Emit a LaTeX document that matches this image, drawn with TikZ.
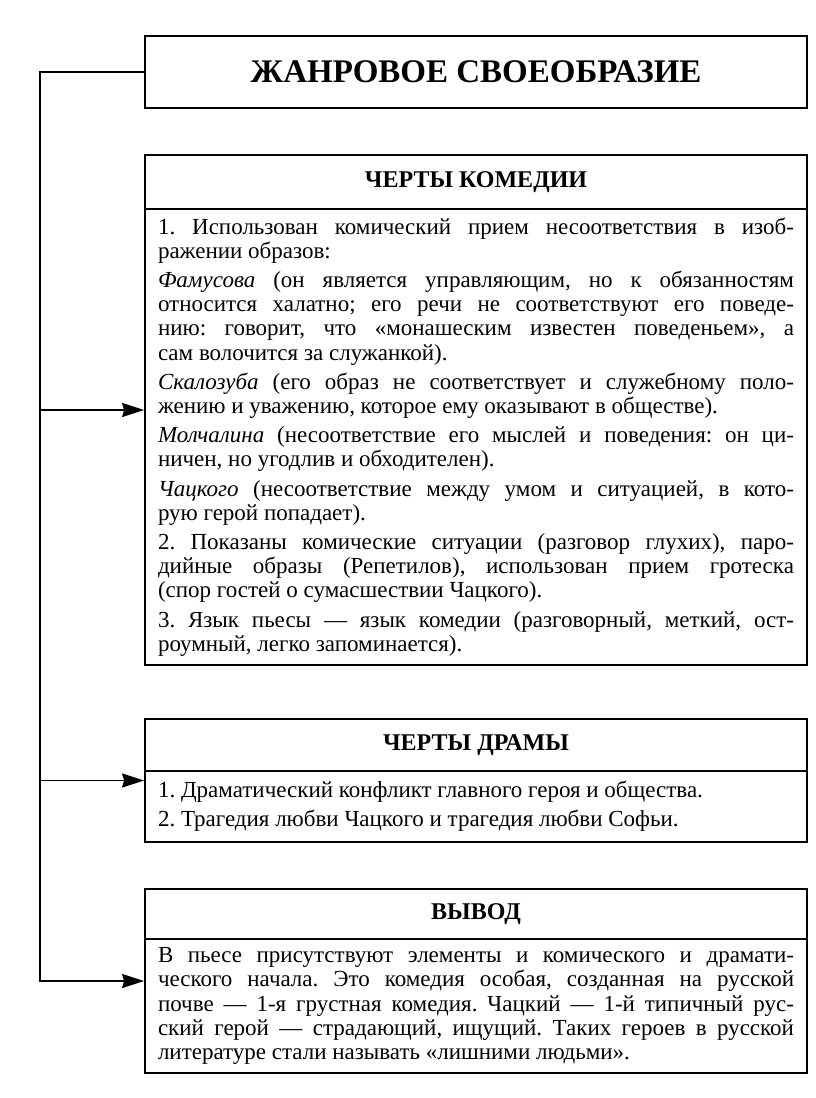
\documentclass[tikz,border=0pt]{standalone}
\usepackage{fontspec}
\setmainfont{Liberation Serif}
\usetikzlibrary{arrows.meta,fit}

\begin{document}
\begin{tikzpicture}[x=1pt,y=-1pt,line width=1.8pt,
  headbox/.style={draw,anchor=north west,inner sep=0pt,outer sep=0pt,minimum width=662pt,font=\bfseries\fontsize{24}{24}\selectfont},
  bodybox/.style={draw,anchor=north west,inner xsep=13pt,inner ysep=0pt,outer sep=0pt,text width=636pt,align=justify,font=\fontsize{23}{24.2}\selectfont\frenchspacing\setlength{\parskip}{5pt}},
  feed/.style={-{Stealth[length=22pt,width=14pt,inset=2pt]}}]
\path[use as bounding box] (0,0) rectangle (816,1098);
\node[headbox,minimum height=72pt,font=\bfseries\fontsize{33}{33}\selectfont] (title) at (145,36) {ЖАНРОВОЕ СВОЕОБРАЗИЕ};
\node[headbox,minimum height=54pt] (comedyhead) at (145,155) {ЧЕРТЫ КОМЕДИИ};
\node[bodybox,minimum height=456pt] (comedybody) at (145,209) {1. Использован комический прием несоответствия в изоб-\linebreak ражении образов:\par
\textit{Фамусова} (он является управляющим, но к обязанностям\linebreak относится халатно; его речи не соответствуют его поведе-\linebreak нию: говорит, что «монашеским известен поведеньем», а\linebreak сам волочится за служанкой).\par
\textit{Скалозуба} (его образ не соответствует и служебному поло-\linebreak жению и уважению, которое ему оказывают в обществе).\par
\textit{Молчалина} (несоответствие его мыслей и поведения: он ци-\linebreak ничен, но угодлив и обходителен).\par
\textit{Чацкого} (несоответствие между умом и ситуацией, в кото-\linebreak рую герой попадает).\par
2. Показаны комические ситуации (разговор глухих), паро-\linebreak дийные образы (Репетилов), использован прием гротеска\linebreak (спор гостей о сумасшествии Чацкого).\par
3. Язык пьесы — язык комедии (разговорный, меткий, ост-\linebreak роумный, легко запоминается).};
\node[headbox,minimum height=52pt] (dramahead) at (145,719) {ЧЕРТЫ ДРАМЫ};
\node[bodybox,minimum height=71pt] (dramabody) at (145,771) {1. Драматический конфликт главного героя и общества.\par
2. Трагедия любви Чацкого и трагедия любви Софьи.};
\node[headbox,minimum height=50pt] (outcomehead) at (145,889) {ВЫВОД};
\node[bodybox,minimum height=134pt] (outcomebody) at (145,939) {В пьесе присутствуют элементы и комического и драмати-\linebreak ческого начала. Это комедия особая, созданная на русской\linebreak почве — 1-я грустная комедия. Чацкий — 1-й типичный рус-\linebreak ский герой — страдающий, ищущий. Таких героев в русской\linebreak литературе стали называть «лишними людьми».};
\node[fit=(comedyhead)(comedybody),inner sep=0pt] (comedy) {};
\node[fit=(dramahead)(dramabody),inner sep=0pt] (drama) {};
\node[fit=(outcomehead)(outcomebody),inner sep=0pt] (outcome) {};
\coordinate (corner) at (40,72);
\draw[feed] (title.west) -- (corner) |- (outcome.west);
\draw[feed] (corner |- comedy.west) -- (comedy.west);
\draw[feed] (corner |- drama.west) -- (drama.west);
\end{tikzpicture}
\end{document}
